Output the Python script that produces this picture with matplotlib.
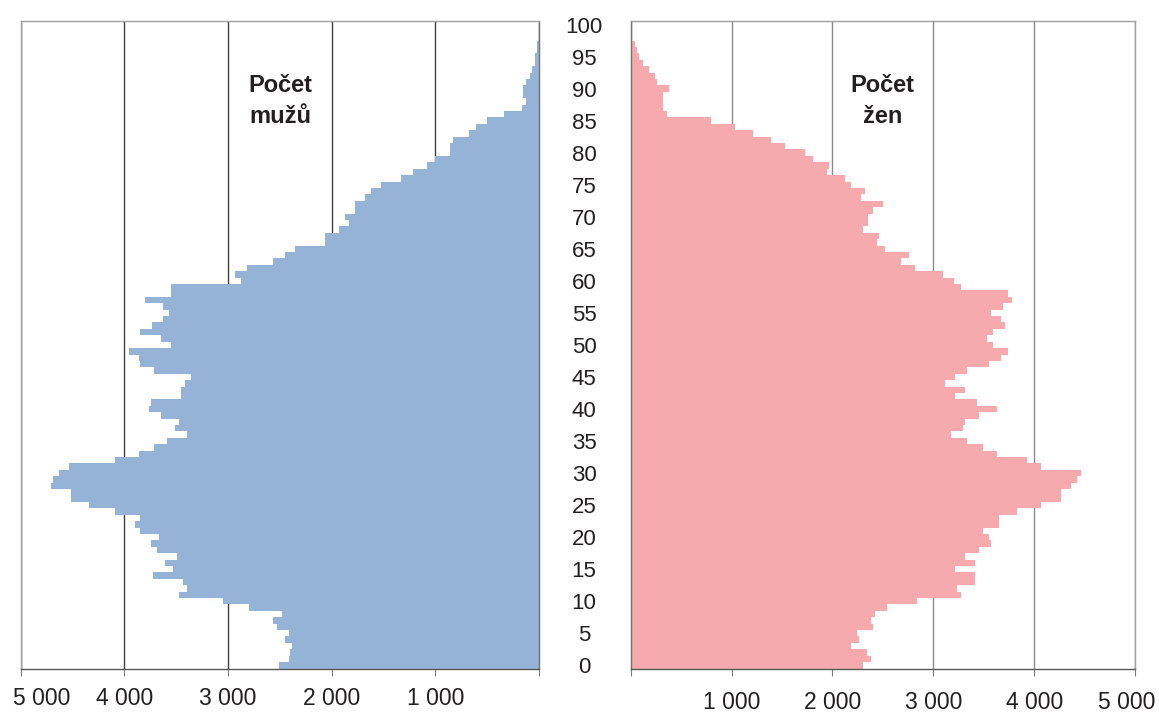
import numpy as num
import matplotlib
matplotlib.use('Agg')
import matplotlib.pyplot as plt
from matplotlib.transforms import ScaledTranslation

plt.rcParams['font.family'] = ['Liberation Sans', 'DejaVu Sans']

# age 0 .. 100
ages = list(range(0, 101))

men = [2510, 2415, 2400, 2380, 2450, 2415, 2530, 2570, 2475, 2800,
	3050, 3475, 3400, 3435, 3725, 3535, 3610, 3495, 3685, 3745,
	3670, 3845, 3900, 3845, 4095, 4340, 4520, 4520, 4710, 4690,
	4630, 4535, 4095, 3860, 3710, 3590, 3400, 3515, 3475, 3645,
	3765, 3745, 3455, 3455, 3420, 3360, 3710, 3845, 3860, 3960,
	3550, 3650, 3845, 3730, 3630, 3570, 3630, 3805, 3550, 3550,
	2880, 2935, 2820, 2570, 2450, 2355, 2065, 2065, 1930, 1835,
	1875, 1775, 1775, 1680, 1625, 1525, 1335, 1215, 1080, 1005,
	860, 860, 830, 680, 610, 505, 340, 165, 125, 155,
	155, 125, 90, 70, 35, 35, 20, 15, 0, 0,
	0]

women = [2300, 2380, 2340, 2185, 2265, 2245, 2405, 2380, 2425, 2540,
	2840, 3275, 3235, 3415, 3415, 3215, 3415, 3315, 3455, 3570,
	3550, 3495, 3650, 3650, 3825, 4065, 4270, 4270, 4365, 4425,
	4465, 4065, 3930, 3630, 3495, 3335, 3175, 3295, 3315, 3455,
	3630, 3435, 3215, 3315, 3115, 3215, 3335, 3550, 3670, 3745,
	3590, 3530, 3590, 3710, 3670, 3570, 3690, 3785, 3745, 3270,
	3210, 3095, 2815, 2680, 2755, 2520, 2440, 2460, 2300, 2355,
	2355, 2400, 2500, 2280, 2320, 2180, 2120, 1945, 1965, 1805,
	1725, 1525, 1390, 1210, 1035, 795, 360, 320, 320, 320,
	380, 260, 240, 180, 120, 80, 60, 40, 0, 0,
	0]

x_ticks = [0, 1000, 2000, 3000, 4000, 5000]
x_labels = ['', '1 000', '2 000', '3 000', '4 000', '5 000']
y_ticks = list(range(0, 101, 5))

men_color = '#95b3d7'
women_color = '#f6aaad'


def style_axes(ax, grid_color, pad):
	ax.set_xlim(0, 5000)
	ax.set_ylim(-0.5, 100.5)
	ax.set_xticks(x_ticks)
	ax.set_xticklabels(x_labels)
	ax.grid(True, axis='x', color=grid_color, linewidth=1.0)
	ax.set_axisbelow(True)
	ax.tick_params(axis='x', direction='out', length=5, width=0.8,
		color='#7f7f7f', labelsize=16.5, pad=pad, labelcolor='#231f20')
	for s in ax.spines.values():
		s.set_color('#a0a0a0')
		s.set_linewidth(1.0)
	ax.spines['bottom'].set_color('#595959')


def shift_label(fig, lab, dx):
	# move a tick label sideways by dx pixels
	lab.set_transform(lab.get_transform() + ScaledTranslation(dx / 100.0, 0, fig.dpi_scale_trans))


fig = plt.figure(figsize=(11.59, 7.13), dpi=100)

# men - left panel, reversed x
ax1 = fig.add_axes([0.0179, 0.0624, 0.4472, 0.9077])
ax1.barh(ages, men, height=1.0, color=men_color, linewidth=0)
style_axes(ax1, '#404040', 8.5)
ax1.invert_xaxis()
ax1.set_yticks([])
ax1.spines['right'].set_color('#707070')
ax1.text(2500, 89.5, 'Počet', ha='center', va='baseline',
	fontsize=17, fontweight='bold', color='#231f20')
ax1.text(2500, 84.6, 'mužů', ha='center', va='baseline',
	fontsize=17, fontweight='bold', color='#231f20')

# women - right panel
ax2 = fig.add_axes([0.5442, 0.0624, 0.4351, 0.9077])
ax2.barh(ages, women, height=1.0, color=women_color, linewidth=0)
style_axes(ax2, '#8c8c8c', 11.0)
ax2.spines['left'].set_color('#707070')
ax2.set_yticks(y_ticks)
ax2.set_yticklabels([str(a) for a in y_ticks])
ax2.tick_params(axis='y', length=0, pad=33.6, labelsize=16, labelcolor='#231f20')
for lab in ax2.get_yticklabels():
	lab.set_ha('center')
ax2.text(2500, 89.5, 'Počet', ha='center', va='baseline',
	fontsize=17, fontweight='bold', color='#231f20')
ax2.text(2500, 84.6, 'žen', ha='center', va='baseline',
	fontsize=17, fontweight='bold', color='#231f20')

# keep the outer "5 000" labels inside the picture
shift_label(fig, ax1.get_xticklabels()[-1], 21)
shift_label(fig, ax2.get_xticklabels()[-1], -8)

fig.savefig('out.png', dpi=100)
